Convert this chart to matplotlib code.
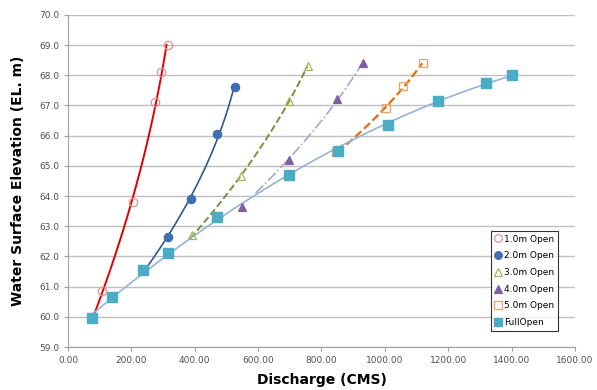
import matplotlib
matplotlib.use("Agg")
import matplotlib.pyplot as plt
from matplotlib.lines import Line2D
import numpy as np

# discharge (CMS) / water surface elevation (EL. m)
q_1m = [107, 205, 274, 293, 315]
h_1m = [60.85, 63.8, 67.1, 68.1, 69.0]
q_2m = [315, 388, 470, 527]
h_2m = [62.65, 63.9, 66.05, 67.6]
q_3m = [390, 545, 697, 756]
h_3m = [62.7, 64.65, 67.15, 68.3]
q_4m = [548, 698, 848, 931]
h_4m = [63.65, 65.2, 67.2, 68.4]
q_5m = [845, 1003, 1057, 1120]
h_5m = [65.45, 66.9, 67.65, 68.4]
q_full = [77, 140, 237, 315, 469, 698, 852, 1009, 1167, 1319, 1400]
h_full = [59.95, 60.65, 61.55, 62.1, 63.3, 64.7, 65.5, 66.35, 67.15, 67.75, 68.0]

# where each gate curve leaves the full-open curve
q_start = [80, 240, 390, 590, 850]
h_start = [60.0, 61.55, 62.6, 64.1, 65.45]

labels = ['1.0m Open', '2.0m Open', '3.0m Open', '4.0m Open', '5.0m Open', 'FullOpen']

fig = plt.figure(figsize=(5.97, 3.90), dpi=100)
ax = fig.add_axes([0.114, 0.110, 0.849, 0.852])

series = [
    (q_1m, h_1m, '#E00000', '-', 1.4, 'o', 'none', '#E59090'),
    (q_2m, h_2m, '#2C5A8C', '-', 1.2, 'o', '#3E6FB0', '#3E6FB0'),
    (q_3m, h_3m, '#77933C', '--', 1.4, '^', 'none', '#9BBB59'),
    (q_4m, h_4m, '#B3A2C7', '-.', 1.2, '^', '#7F5FA3', '#7F5FA3'),
    (q_5m, h_5m, '#E46C0A', '--', 1.6, 's', 'none', '#F0A060'),
]

handles = []
for i, (q, h, lc, ls, lw, mk, mfc, mec) in enumerate(series):
    # smooth trend line from the start point through the points above it
    keep = [k for k in range(len(h)) if h[k] > h_start[i]]
    lq = [q_start[i]] + [q[k] for k in keep]
    lh = [h_start[i]] + [h[k] for k in keep]
    c = np.polyfit(lh, lq, 2)
    hh = np.linspace(h_start[i], max(h), 60)
    ax.plot(np.polyval(c, hh), hh, color=lc, linestyle=ls, linewidth=lw, zorder=2)
    ax.plot(q, h, linestyle='none', marker=mk, markersize=6,
            markerfacecolor=mfc, markeredgecolor=mec, markeredgewidth=0.9, zorder=3)
    handles.append(Line2D([], [], linestyle='none', marker=mk, markersize=5.5,
                          markerfacecolor=mfc, markeredgecolor=mec, markeredgewidth=0.9))

c = np.polyfit(q_full, h_full, 2)
qq = np.linspace(q_full[0], q_full[-1], 100)
ax.plot(qq, np.polyval(c, qq), color='#95B3D7', linewidth=1.2, zorder=2)
ax.plot(q_full, h_full, linestyle='none', marker='s', markersize=7,
        markerfacecolor='#4BACC6', markeredgecolor='#4BACC6', zorder=3)
handles.append(Line2D([], [], linestyle='none', marker='s', markersize=5.5,
                      markerfacecolor='#4BACC6', markeredgecolor='#4BACC6'))

ax.set_xlim(0, 1600)
ax.set_ylim(59, 70)
ax.set_xticks(np.arange(0, 1601, 200))
ax.set_yticks(np.arange(59, 70.1, 1))
ax.set_xticklabels([f'{v:.2f}' for v in np.arange(0, 1601, 200)])
ax.set_yticklabels([f'{v:.1f}' for v in np.arange(59, 70.1, 1)])
ax.tick_params(labelsize=6.5, colors='#505050', length=3, color='#A0A0A0')
ax.grid(axis='y', color='#BFBFBF', linewidth=1.0)
ax.set_axisbelow(True)
for s in ['top', 'right']:
    ax.spines[s].set_visible(False)
for s in ['left', 'bottom']:
    ax.spines[s].set_color('#A0A0A0')

ax.set_xlabel('Discharge (CMS)', fontsize=10, fontweight='bold', labelpad=6)
ax.set_ylabel('Water Surface Elevation (EL. m)', fontsize=10, fontweight='bold', labelpad=10)

leg = ax.legend(handles, labels, loc='lower right', bbox_to_anchor=(0.976, 0.036),
                fontsize=6.5, frameon=True, fancybox=False, handlelength=0.8,
                handletextpad=0.3, labelspacing=0.85, borderpad=0.4)
leg.get_frame().set_edgecolor('black')
leg.get_frame().set_linewidth(0.8)

fig.savefig('out.png', dpi=100)
